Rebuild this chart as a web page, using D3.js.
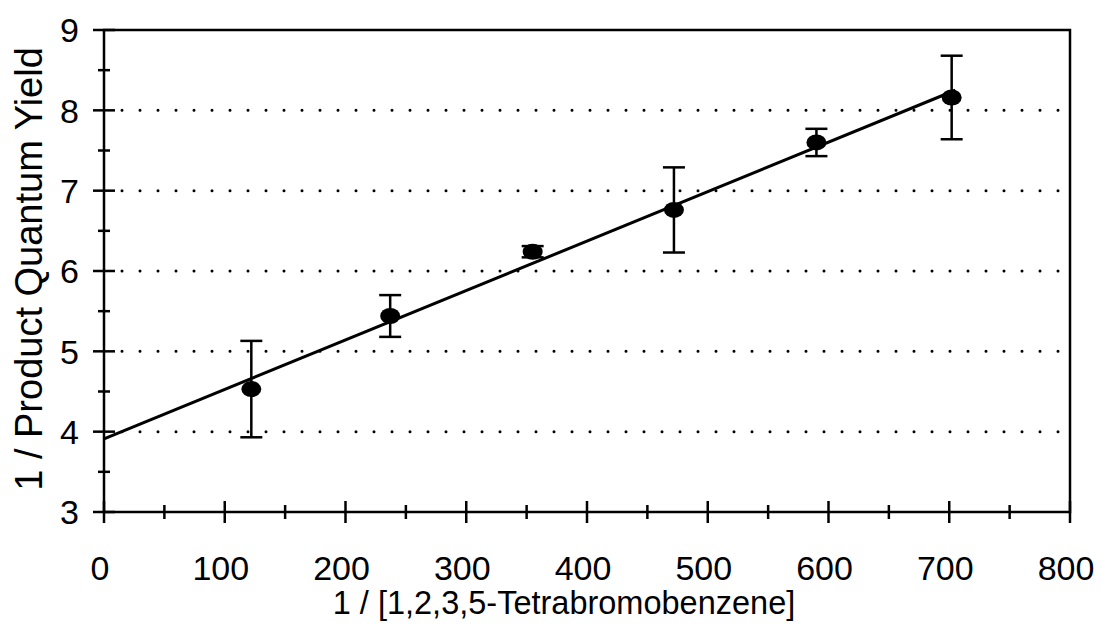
<!DOCTYPE html>
<html><head><meta charset="utf-8">
<script src="https://cdn.jsdelivr.net/npm/d3@7"></script>
<style>body{margin:0;background:#fff}svg{display:block}text{font-family:"Liberation Sans",Arial,sans-serif;fill:#000}</style>
</head><body><svg id="c" width="1102" height="627"></svg>
<script>
const xVals = [122, 237, 355, 472, 590, 702];
const yVals = [4.53, 5.44, 6.24, 6.76, 7.60, 8.16];
const yErr = [0.60, 0.26, 0.07, 0.53, 0.17, 0.52];
const fitX = [0, 705];
const fitY = [3.91, 8.25];
const xTicks = [0,100,200,300,400,500,600,700,800];
const yTicks = [3,4,5,6,7,8,9];
const gridY = [4,5,6,7,8];
const xTitle = "1 / [1,2,3,5-Tetrabromobenzene]";
const yTitle = "1 / Product Quantum Yield";

const svg = d3.select("#c");
const L=104,R=1070,T=30,B=512;
const x = d3.scaleLinear().domain([0,800]).range([L,R]);
const y = d3.scaleLinear().domain([3,9]).range([B,T]);

// grid
svg.append("g").selectAll("line").data(gridY).join("line")
  .attr("x1",L+18).attr("x2",R).attr("y1",d=>y(d)).attr("y2",d=>y(d))
  .attr("stroke","#000").attr("stroke-width",3).attr("stroke-linecap","round")
  .attr("stroke-dasharray","0,18");

// frame
svg.append("rect").attr("x",L).attr("y",T).attr("width",R-L).attr("height",B-T)
  .attr("fill","none").attr("stroke","#000").attr("stroke-width",2.5);

// x axis ticks
const xMinor = d3.range(50,800,100);
const gx = svg.append("g");
gx.selectAll("line.maj").data(xTicks).join("line").attr("class","maj")
  .attr("x1",d=>x(d)).attr("x2",d=>x(d)).attr("y1",B-11).attr("y2",B+11)
  .attr("stroke","#000").attr("stroke-width",2.5);
gx.selectAll("line.min").data(xMinor).join("line").attr("class","min")
  .attr("x1",d=>x(d)).attr("x2",d=>x(d)).attr("y1",B-7).attr("y2",B+7)
  .attr("stroke","#000").attr("stroke-width",2.5);
gx.selectAll("text").data(xTicks).join("text")
  .attr("x",d=>x(d)-4).attr("y",580).attr("text-anchor","middle")
  .attr("font-size",34).text(d=>d);

// y axis ticks
const yMinor = d3.range(3.5,9,1);
const gy = svg.append("g");
gy.selectAll("line.maj").data(yTicks).join("line").attr("class","maj")
  .attr("y1",d=>y(d)).attr("y2",d=>y(d)).attr("x1",L-11).attr("x2",L+11)
  .attr("stroke","#000").attr("stroke-width",2.5);
gy.selectAll("line.min").data(yMinor).join("line").attr("class","min")
  .attr("y1",d=>y(d)).attr("y2",d=>y(d)).attr("x1",L-6).attr("x2",L+6)
  .attr("stroke","#000").attr("stroke-width",2.5);
gy.selectAll("text").data(yTicks).join("text")
  .attr("x",79).attr("y",d=>y(d)).attr("dy","0.36em").attr("text-anchor","end")
  .attr("font-size",34).text(d=>d);

// fit line
svg.append("line").attr("x1",x(fitX[0])).attr("y1",y(fitY[0]))
  .attr("x2",x(fitX[1])).attr("y2",y(fitY[1]))
  .attr("stroke","#000").attr("stroke-width",3);

// error bars
const pts = xVals.map((v,i)=>({x:v,y:yVals[i],e:yErr[i]}));
const eb = svg.append("g").attr("stroke","#000").attr("stroke-width",2.5);
pts.forEach(p=>{
  eb.append("line").attr("x1",x(p.x)).attr("x2",x(p.x)).attr("y1",y(p.y+p.e)).attr("y2",y(p.y-p.e));
  [p.y+p.e,p.y-p.e].forEach(v=>eb.append("line").attr("x1",x(p.x)-11).attr("x2",x(p.x)+11)
    .attr("y1",y(v)).attr("y2",y(v)));
});
svg.append("g").selectAll("ellipse").data(pts).join("ellipse")
  .attr("cx",d=>x(d.x)).attr("cy",d=>y(d.y)).attr("rx",10).attr("ry",8).attr("fill","#000");

// titles
svg.append("text").attr("x",564).attr("y",614).attr("text-anchor","middle")
  .attr("font-size",32.5).text(xTitle);
svg.append("text").attr("transform",`translate(42,269) rotate(-90)`)
  .attr("text-anchor","middle").attr("font-size",38).text(yTitle);
</script></body></html>
